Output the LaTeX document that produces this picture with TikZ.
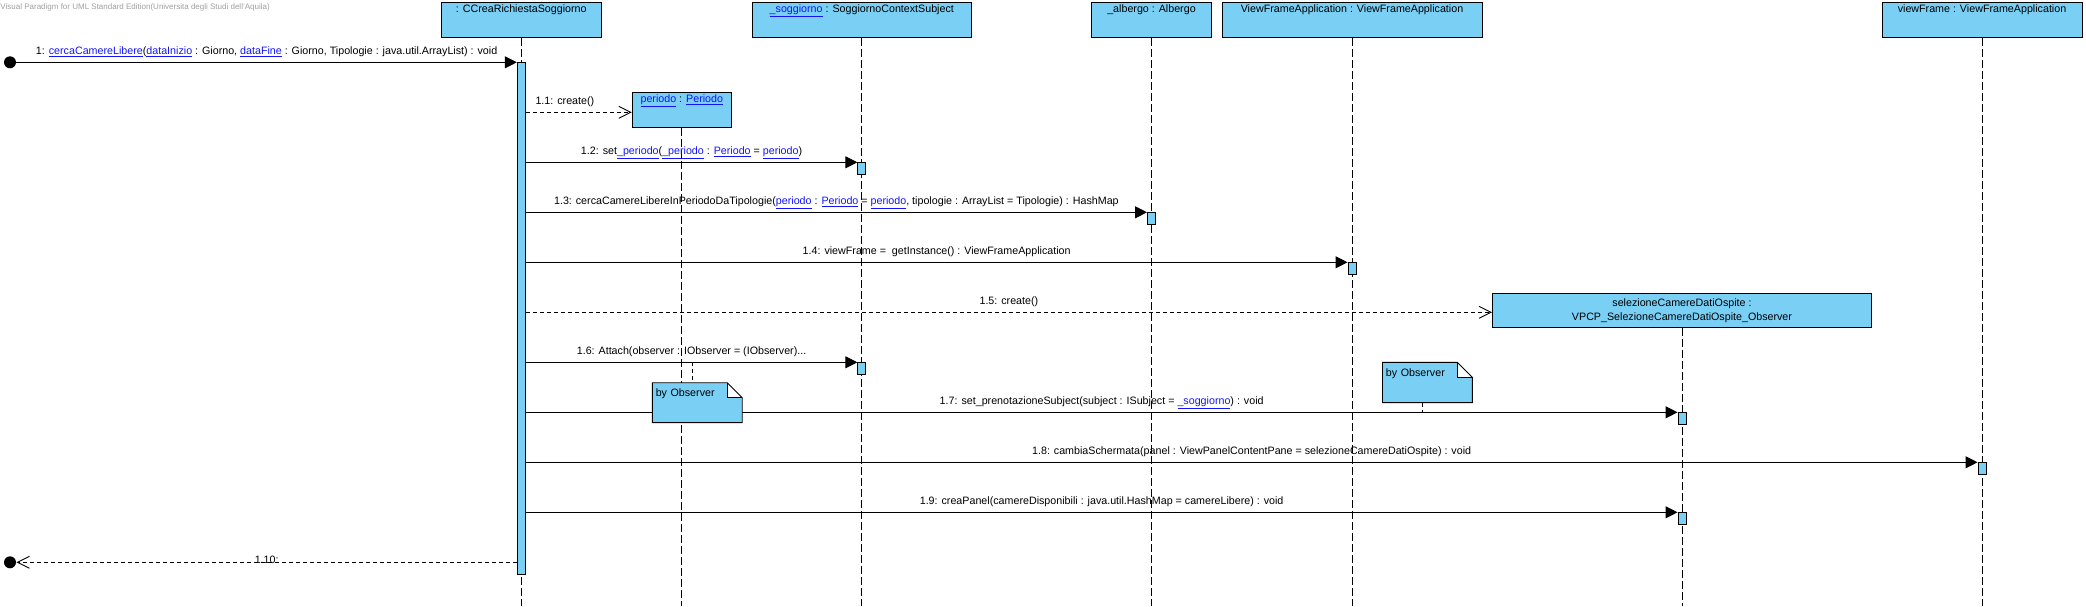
\documentclass[tikz,border=0pt]{standalone}
\usepackage{fontspec}
\setmainfont{Liberation Sans}
\usetikzlibrary{arrows.meta}
\definecolor{vpblue}{RGB}{122,207,245}
\definecolor{lnkblue}{RGB}{20,20,250}
\newcommand{\lnk}[1]{\textcolor{lnkblue}{\underline{#1}}}

\begin{document}
\begin{tikzpicture}[x=1pt,y=-1pt,line width=0.9pt,font=\fontsize{10.7}{12.8}\selectfont,
    obj/.style={draw,fill=vpblue,anchor=north,inner xsep=2pt,inner ysep=1.5pt,text height=8.5pt,text depth=23.5pt},
    act/.style={draw,fill=vpblue,anchor=north,inner sep=0pt,minimum width=8pt,minimum height=12pt},
    life/.style={dash pattern=on 8pt off 3pt},
    call/.style={-{Triangle[length=12pt,width=12pt]}},
    ret/.style={dash pattern=on 4pt off 3pt,-{Straight Barb[length=12pt,width=12pt]}},
    lbl/.style={midway,anchor=base,yshift=8pt},
    dot/.style={circle,fill=black,inner sep=0pt,minimum size=12pt},
    note/.style={fill=vpblue,anchor=north west,inner xsep=3pt,inner ysep=2.7pt,text width=83pt,align=left,text height=10.7pt,text depth=22.9pt},
    tie/.style={dash pattern=on 4pt off 3pt}]
    \useasboundingbox (0,0) rectangle (2086,606);
    \node[anchor=west,inner sep=0pt,text=gray!75,font=\fontsize{8}{9}\selectfont] (wm) at (0,7.3) {Visual Paradigm for UML Standard Edition(Universita degli Studi dell'Aquila)};

    % objects
    \node[obj,minimum width=160pt] (crs) at (521.3,2.3) {: CCreaRichiestaSoggiorno};
    \node[obj,minimum width=219pt] (sog) at (861.8,2.3) {\lnk{\_soggiorno} : SoggiornoContextSubject};
    \node[obj,minimum width=120pt] (alb) at (1151.5,2.3) {\_albergo : Albergo};
    \node[obj,minimum width=260pt] (vfa) at (1352,2.3) {ViewFrameApplication : ViewFrameApplication};
    \node[obj,minimum width=200pt] (vf) at (1982,2.3) {viewFrame : ViewFrameApplication};
    \node[obj,minimum width=99pt] (per) at (681.8,92.3) {\lnk{periodo} : \lnk{Periodo}};
    \node[draw,fill=vpblue,anchor=north,minimum width=379pt,minimum height=34.6pt,align=center,inner sep=1pt] (sel) at (1682,292.7) {selezioneCamereDatiOspite :\\[1.5pt]VPCP\_SelezioneCamereDatiOspite\_Observer};

    \foreach \o in {crs,per,sog,alb,vfa,sel,vf}
        \draw[life] (\o.south) -- (\o.south |- 0,606);

    % activations
    \node[act,minimum height=512pt] (a0) at (crs.south |- 0,62.3) {};
    \node[act] (a2) at (sog.south |- 0,162.3) {};
    \node[act] (a3) at (alb.south |- 0,212.3) {};
    \node[act] (a4) at (vfa.south |- 0,262.3) {};
    \node[act] (a6) at (sog.south |- 0,362.3) {};
    \node[act] (a7) at (sel.south |- 0,412.3) {};
    \node[act] (a8) at (vf.south |- 0,462.3) {};
    \node[act] (a9) at (sel.south |- 0,512.3) {};
    \node[dot] (init) at (10,62.3) {};
    \node[dot] (fin) at (10,562.3) {};

    % messages
    \draw[call] (init) -- (a0.north west) node[lbl]{1: \lnk{cercaCamereLibere}(\lnk{dataInizio} : Giorno, \lnk{dataFine} : Giorno, Tipologie : java.util.ArrayList) : void};
    \draw[ret] (a0.east |- 0,112.3) -- (per.west |- 0,112.3) node[pos=0,anchor=base west,xshift=6pt,yshift=8pt]{1.1: create()};
    \draw[call] (a0.east |- a2.north) -- (a2.north west) node[lbl]{1.2: set\lnk{\_periodo}(\lnk{\_periodo} : \lnk{Periodo} = \lnk{periodo})};
    \draw[call] (a0.east |- a3.north) -- (a3.north west) node[lbl]{1.3: cercaCamereLibereInPeriodoDaTipologie(\lnk{periodo} : \lnk{Periodo} = \lnk{periodo}, tipologie : ArrayList = Tipologie) : HashMap};
    \draw[call] (a0.east |- a4.north) -- (a4.north west) node[lbl]{1.4: viewFrame = \ getInstance() : ViewFrameApplication};
    \draw[ret] (a0.east |- 0,312.3) -- (sel.west |- 0,312.3) node[lbl]{1.5: create()};
    \draw[call] (a0.east |- a6.north) -- (a6.north west) node[lbl]{1.6: Attach(observer : IObserver = (IObserver)...};
    \draw[call] (a0.east |- a7.north) -- (a7.north west) node[lbl]{1.7: set\_prenotazioneSubject(subject : ISubject = \lnk{\_soggiorno}) : void};
    \draw[call] (a0.east |- a8.north) -- (a8.north west) node[lbl]{1.8: cambiaSchermata(panel : ViewPanelContentPane = selezioneCamereDatiOspite) : void};
    \draw[call] (a0.east |- a9.north) -- (a9.north west) node[lbl]{1.9: creaPanel(camereDisponibili : java.util.HashMap = camereLibere) : void};
    \draw[ret] (a0.west |- 0,562.3) -- (fin) node[midway,anchor=base,yshift=-1.5pt]{1.10:};

    % notes
    \node[note] (n1) at (652.3,382.7) {by Observer};
    \fill[white] ([xshift=-15pt]n1.north east) rectangle ([yshift=-15pt]n1.north east);
    \draw (n1.south west) -- (n1.north west) -- ([xshift=-15pt]n1.north east) -- ([yshift=-15pt]n1.north east) -- (n1.south east) -- cycle;
    \draw ([xshift=-15pt]n1.north east) -- ++(0,15) -- ++(15,0);
    \coordinate (t1) at (692.3,362.3);
    \draw[tie] (t1) -- (t1 |- n1.north);

    \node[note,text depth=23.3pt] (n2) at (1382.5,362.3) {by Observer};
    \fill[white] ([xshift=-15pt]n2.north east) rectangle ([yshift=-15pt]n2.north east);
    \draw (n2.south west) -- (n2.north west) -- ([xshift=-15pt]n2.north east) -- ([yshift=-15pt]n2.north east) -- (n2.south east) -- cycle;
    \draw ([xshift=-15pt]n2.north east) -- ++(0,15) -- ++(15,0);
    \coordinate (t2) at (1422,412.3);
    \draw[tie] (n2.south -| t2) -- (t2);
\end{tikzpicture}
\end{document}
